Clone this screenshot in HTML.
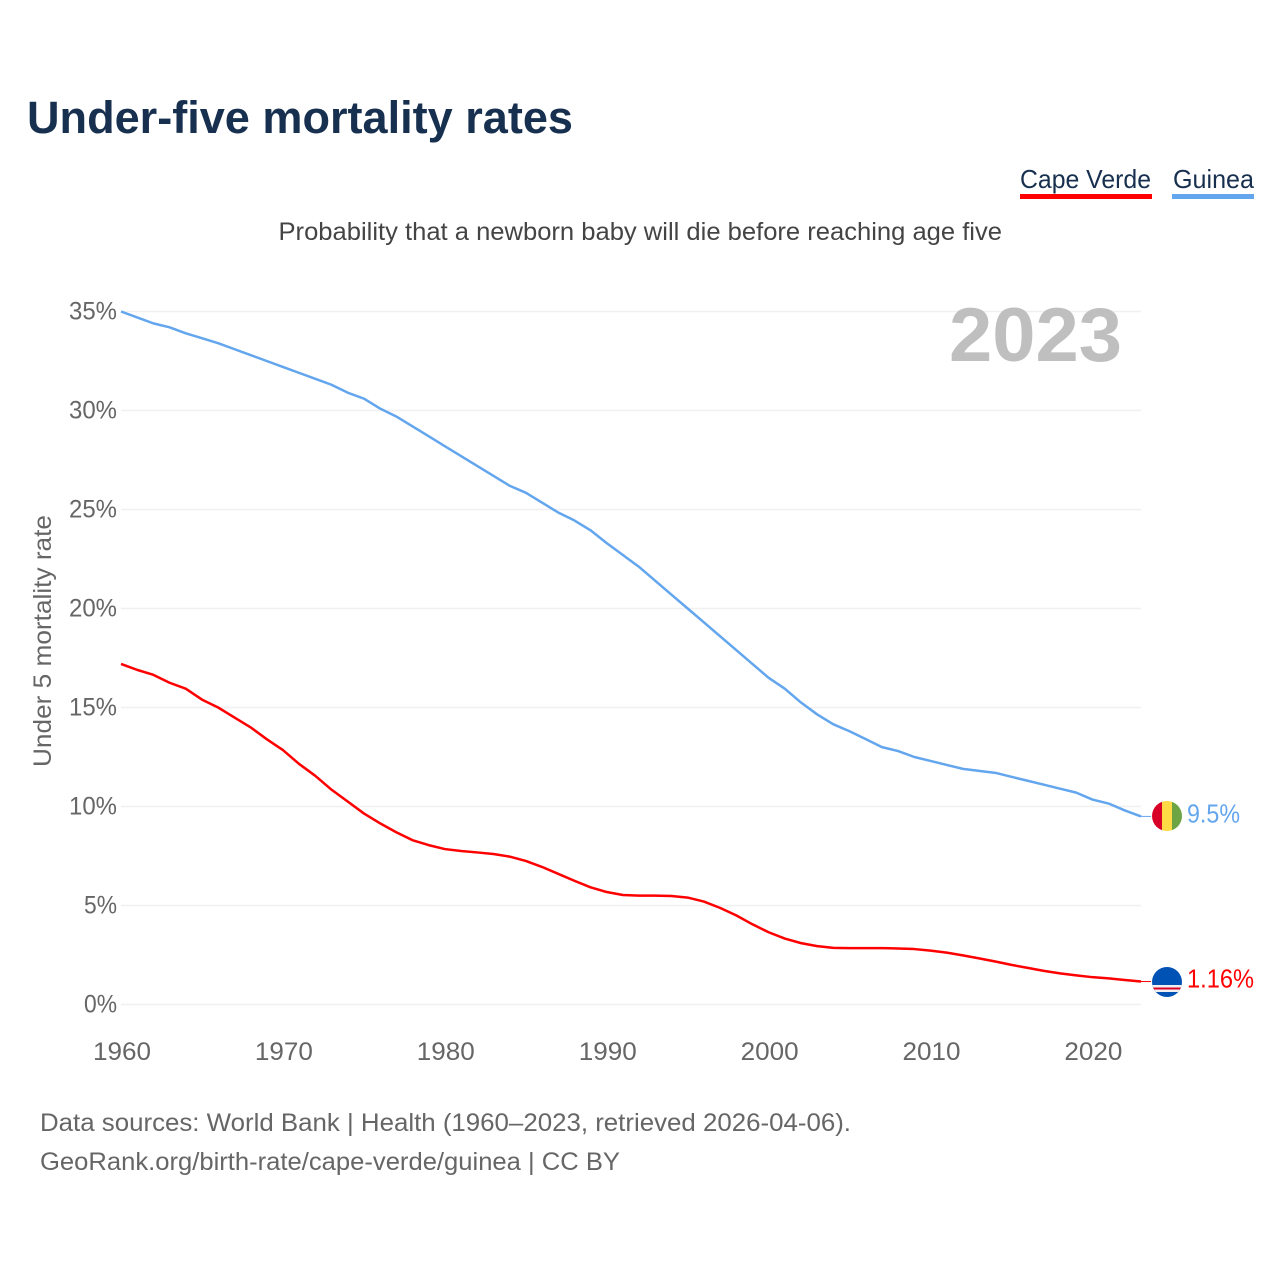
<!DOCTYPE html>
<html lang="en">
<head>
<meta charset="utf-8">
<title>Under-five mortality rates</title>
<style>
html,body{margin:0;padding:0;background:#fff;width:1280px;height:1280px;overflow:hidden}
svg{display:block}
text{font-family:"Liberation Sans",sans-serif}
</style>
</head>
<body>
<svg id="chart" xmlns="http://www.w3.org/2000/svg" width="1280" height="1280" viewBox="0 0 1280 1280">
  <text x="27" y="133" font-size="45" font-weight="700" fill="#18304f" textLength="546" lengthAdjust="spacingAndGlyphs">Under-five mortality rates</text>
  <g>
    <text x="1020" y="188" font-size="26" fill="#18304f" textLength="131" lengthAdjust="spacingAndGlyphs">Cape Verde</text>
    <rect x="1020" y="194" width="132" height="5" fill="#ff0000"/>
  </g>
  <g>
    <text x="1173" y="188" font-size="26" fill="#18304f" textLength="81" lengthAdjust="spacingAndGlyphs">Guinea</text>
    <rect x="1172" y="194" width="82" height="5" fill="#63a6ee"/>
  </g>
  <text x="278.5" y="240" font-size="25" fill="#444444" textLength="723.5" lengthAdjust="spacingAndGlyphs">Probability that a newborn baby will die before reaching age five</text>
  <g id="grid"></g>
  <g id="yticks"></g>
  <g id="xticks"></g>
  <text transform="translate(51,767) rotate(-90)" font-size="25" fill="#666666" textLength="252" lengthAdjust="spacingAndGlyphs">Under 5 mortality rate</text>
  <text x="949" y="361" font-size="76" font-weight="700" fill="#bfbfbf" textLength="173" lengthAdjust="spacingAndGlyphs">2023</text>
  <g id="series"></g>
  <g>
    <clipPath id="clip-guinea"><circle cx="1167" cy="816" r="15"/></clipPath>
    <g clip-path="url(#clip-guinea)">
      <rect x="1152" y="801" width="10" height="30" fill="#d80027"/>
      <rect x="1162" y="801" width="10" height="30" fill="#ffda44"/>
      <rect x="1172" y="801" width="10" height="30" fill="#6da544"/>
    </g>
  </g>
  <g>
    <clipPath id="clip-cv"><circle cx="1167" cy="982" r="15"/></clipPath>
    <g clip-path="url(#clip-cv)">
      <rect x="1152" y="967" width="30" height="30" fill="#0052b4"/>
      <rect x="1152" y="985" width="30" height="7" fill="#f0f0f0"/>
      <rect x="1152" y="987.5" width="30" height="2" fill="#d80027"/>
    </g>
  </g>
  <text id="label-guinea" x="1187" y="822.5" font-size="26" fill="#63a6ee" textLength="53" lengthAdjust="spacingAndGlyphs">9.5%</text>
  <text id="label-cv" x="1187" y="987.5" font-size="26" fill="#ff0000" textLength="67" lengthAdjust="spacingAndGlyphs">1.16%</text>
  <text x="40" y="1131" font-size="25" fill="#666666" textLength="811" lengthAdjust="spacingAndGlyphs">Data sources: World Bank | Health (1960–2023, retrieved 2026-04-06).</text>
  <text x="40" y="1170" font-size="25" fill="#666666" textLength="580" lengthAdjust="spacingAndGlyphs">GeoRank.org/birth-rate/cape-verde/guinea | CC BY</text>
</svg>
<script>
const startYear = 1960;
const guineaValues = [35.0,34.7,34.4,34.2,33.9,33.65,33.4,33.1,32.8,32.5,32.2,31.9,31.6,31.3,30.9,30.6,30.1,29.7,29.2,28.7,28.2,27.7,27.2,26.7,26.2,25.85,25.35,24.85,24.45,23.95,23.3,22.7,22.1,21.4,20.7,20.0,19.3,18.6,17.9,17.2,16.5,15.95,15.25,14.65,14.15,13.8,13.4,13.0,12.8,12.5,12.3,12.1,11.9,11.8,11.7,11.5,11.3,11.1,10.9,10.7,10.35,10.15,9.8,9.5];
const capeVerdeValues = [17.2,16.9,16.65,16.25,15.95,15.4,15.0,14.5,14.0,13.4,12.85,12.15,11.55,10.85,10.25,9.65,9.15,8.7,8.3,8.05,7.85,7.75,7.68,7.6,7.47,7.25,6.95,6.6,6.25,5.92,5.68,5.53,5.5,5.5,5.48,5.4,5.2,4.88,4.5,4.05,3.65,3.33,3.1,2.95,2.86,2.85,2.85,2.85,2.83,2.8,2.72,2.62,2.48,2.33,2.17,2.0,1.85,1.7,1.57,1.47,1.38,1.32,1.24,1.16];
const yTickValues = [0,5,10,15,20,25,30,35];
const xTickValues = [1960,1970,1980,1990,2000,2010,2020];

const NS = 'http://www.w3.org/2000/svg';
function xScale(year){ return 121 + (year - 1960) * (1020 / 63); }
function yScale(v){ return 1004.5 - v * (693 / 35); }

function linePath(values){
  return values.map(function(v,i){
    return (i ? 'L' : 'M') + xScale(startYear + i).toFixed(2) + ' ' + yScale(v).toFixed(2);
  }).join(' ');
}

const grid = document.getElementById('grid');
const yticks = document.getElementById('yticks');
yTickValues.forEach(function(v){
  const l = document.createElementNS(NS,'line');
  
  
  l.setAttribute('x1', xScale(1960));
  l.setAttribute('x2', xScale(2023));
  l.setAttribute('y1', yScale(v));
  l.setAttribute('y2', yScale(v));
  l.setAttribute('stroke', '#f0f0f0');
  l.setAttribute('stroke-width', '1.6');
  grid.appendChild(l);
  const t = document.createElementNS(NS,'text');
  
  
  t.setAttribute('x', 117);
  t.setAttribute('y', yScale(v) + 8);
  t.setAttribute('text-anchor', 'end');
  t.setAttribute('font-size', '25');
  t.setAttribute('fill', '#666666');
  t.setAttribute('textLength', v < 10 ? '33' : '48');
  t.setAttribute('lengthAdjust', 'spacingAndGlyphs');
  t.textContent = v + '%';
  yticks.appendChild(t);
});

const xticks = document.getElementById('xticks');
xTickValues.forEach(function(y){
  const t = document.createElementNS(NS,'text');
  
  
  t.setAttribute('x', xScale(y) + 1);
  t.setAttribute('y', 1060);
  t.setAttribute('text-anchor', 'middle');
  t.setAttribute('font-size', '25');
  t.setAttribute('fill', '#666666');
  t.setAttribute('textLength', '58');
  t.setAttribute('lengthAdjust', 'spacingAndGlyphs');
  t.textContent = y;
  xticks.appendChild(t);
});

const series = document.getElementById('series');
function drawSeries(values, color, name){
  const p = document.createElementNS(NS,'path');
  
  
  p.setAttribute('d', linePath(values));
  p.setAttribute('fill', 'none');
  p.setAttribute('stroke', color);
  p.setAttribute('stroke-width', '2.5');
  p.setAttribute('stroke-linejoin', 'round');
  series.appendChild(p);
  const last = values[values.length - 1];
  const c = document.createElementNS(NS,'line');
  
  
  c.setAttribute('x1', xScale(2023));
  c.setAttribute('x2', xScale(2023) + 10);
  c.setAttribute('y1', yScale(last));
  c.setAttribute('y2', yScale(last));
  c.setAttribute('stroke', color);
  c.setAttribute('stroke-width', '1');
  series.appendChild(c);
}
drawSeries(capeVerdeValues, '#ff0000', 'cape-verde-line');
drawSeries(guineaValues, '#63a6ee', 'guinea-line');
</script>
</body>
</html>
